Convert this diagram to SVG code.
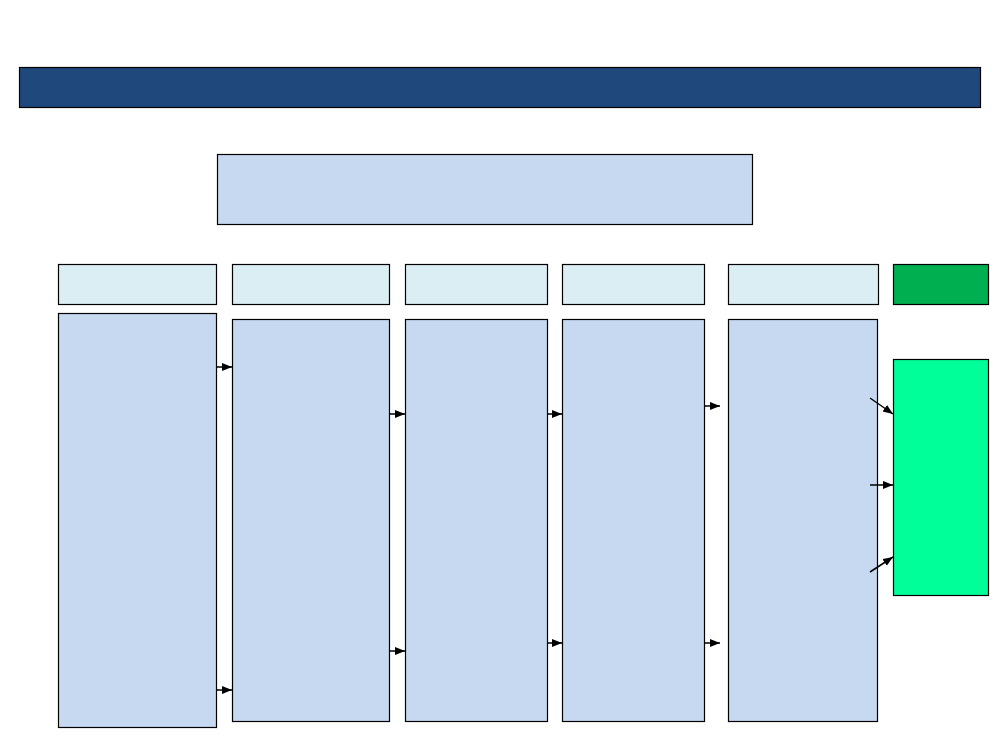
<svg xmlns="http://www.w3.org/2000/svg" width="1000" height="750" viewBox="0 0 1000 750">
<style>
.box{stroke:#000;stroke-width:1.2}
.banner{fill:#1F497D}
.body{fill:#C6D9F1}
.head{fill:#DBEEF4}
.dg{fill:#00B050}
.lg{fill:#00FF99}
.con{stroke:#000;stroke-width:1.5;fill:none;marker-end:url(#ah)}
</style>
<defs>
<marker id="ah" markerUnits="userSpaceOnUse" markerWidth="11" markerHeight="9" refX="10" refY="4" orient="auto">
<path d="M0,0 L10,4 L0,8 z" fill="#000"/>
</marker>
</defs>
<rect width="1000" height="750" fill="#fff"/>
<g id="banner"><rect class="box banner" x="19.5" y="67.5" width="961" height="40"/></g>
<g id="top-box"><rect class="box body" x="217.5" y="154.5" width="535" height="70"/></g>
<g id="header-1"><rect class="box head" x="58.5" y="264.5" width="158" height="40"/></g>
<g id="header-2"><rect class="box head" x="232.5" y="264.5" width="157" height="40"/></g>
<g id="header-3"><rect class="box head" x="405.5" y="264.5" width="142" height="40"/></g>
<g id="header-4"><rect class="box head" x="562.5" y="264.5" width="142" height="40"/></g>
<g id="header-5"><rect class="box head" x="728.5" y="264.5" width="150" height="40"/></g>
<g id="header-6"><rect class="box dg" x="893.5" y="264.5" width="95" height="40"/></g>
<g id="col-1"><rect class="box body" x="58.5" y="313.5" width="158" height="414"/></g>
<g id="col-2"><rect class="box body" x="232.5" y="319.5" width="157" height="402"/></g>
<g id="col-3"><rect class="box body" x="405.5" y="319.5" width="142" height="402"/></g>
<g id="col-4"><rect class="box body" x="562.5" y="319.5" width="142" height="402"/></g>
<g id="col-5"><rect class="box body" x="728.5" y="319.5" width="149" height="402"/></g>
<g id="result"><rect class="box lg" x="893.5" y="359.5" width="95" height="236"/></g>
<g id="connectors">
<line class="con" x1="217" y1="367" x2="232" y2="367"/>
<line class="con" x1="217" y1="690" x2="232" y2="690"/>
<line class="con" x1="390" y1="414" x2="405" y2="414"/>
<line class="con" x1="390" y1="651" x2="405" y2="651"/>
<line class="con" x1="548" y1="414" x2="562" y2="414"/>
<line class="con" x1="548" y1="643" x2="562" y2="643"/>
<line class="con" x1="705" y1="406" x2="720" y2="406"/>
<line class="con" x1="705" y1="643" x2="720" y2="643"/>
<line class="con" x1="870" y1="398" x2="893" y2="414"/>
<line class="con" x1="870" y1="485" x2="893" y2="485"/>
<line class="con" x1="870" y1="572" x2="893" y2="557"/>
</g>
</svg>
